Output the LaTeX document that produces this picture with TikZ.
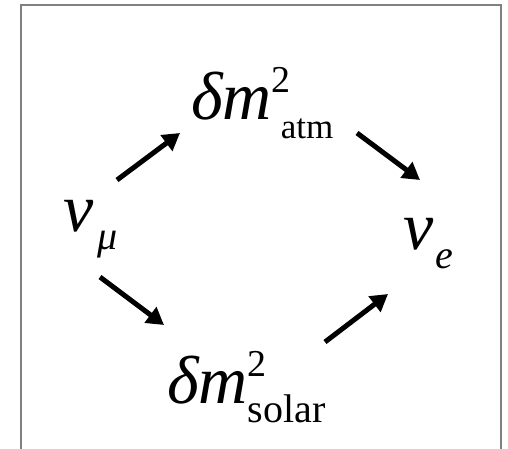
\documentclass[tikz,border=0pt]{standalone}
\usepackage{fontspec}
\setmainfont{Liberation Serif}
\usetikzlibrary{arrows.meta}
\definecolor{frame}{HTML}{808080}
% delta m squared with a lower label
\newcommand{\dmsq}[2]{δm\rlap{\raisebox{27pt}{\upshape\fontsize{38}{38}\selectfont 2}}\raisebox{-19pt}{\upshape\fontsize{#2}{#2}\selectfont #1}}

\begin{document}
\begin{tikzpicture}[
  x=1pt, y=-1pt,
  lbl/.style={inner sep=0pt, anchor=base west, font=\fontsize{68}{68}\selectfont\itshape},
  arr/.style={-{Triangle[length=17pt, width=19pt]}, line width=5pt}
]
\useasboundingbox (0,0) rectangle (508,449);
\draw[frame, line width=1.5pt] (21,449) -- (21,5) -- (501,5) -- (501,449);

\node[lbl] (numu) at (63,231) {ν\hspace{4pt}\raisebox{-18pt}{\fontsize{40}{40}\selectfont μ}};
\node[lbl] (atm) at (191,120) {\dmsq{\hspace{9pt}atm}{35}};
\node[lbl] (solar) at (167,403) {\dmsq{solar}{40}};
\node[lbl] (nue) at (403,249) {ν\hspace{2pt}\raisebox{-19pt}{\fontsize{40}{40}\selectfont e}};

\draw[arr] ([shift={(54,-51)}]numu.base west) -- ([shift={(-11,13)}]atm.base west);
\draw[arr] ([shift={(166,13)}]atm.base west) -- ([shift={(17,-69)}]nue.base west);
\draw[arr] ([shift={(37,46)}]numu.base west) -- ([shift={(-3,-78)}]solar.base west);
\draw[arr] ([shift={(158,-61)}]solar.base west) -- ([shift={(-15,45)}]nue.base west);
\end{tikzpicture}
\end{document}
